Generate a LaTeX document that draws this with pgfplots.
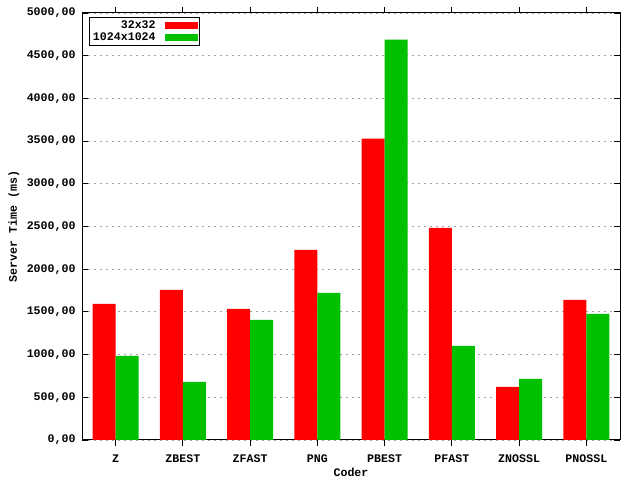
\documentclass[border=0pt]{standalone}
\usepackage{pgfplots}
\pgfplotsset{compat=1.18}
\usepackage{fontspec}
\setmainfont{Liberation Mono}
\definecolor{gred}{RGB}{255,0,0}
\definecolor{ggreen}{RGB}{0,192,0}
\definecolor{ggrid}{RGB}{160,160,160}
\newcommand{\gfont}{\fontsize{11.6bp}{12bp}\selectfont\bfseries}
\begin{document}
\begin{tikzpicture}
\useasboundingbox (0,0) rectangle (640bp,480bp);
\begin{axis}[
  at={(82bp,40bp)}, anchor=south west,
  scale only axis, width=538bp, height=427bp,
  xmin=-0.5, xmax=7.5, ymin=0, ymax=5000,
  xtick={0,...,7},
  xticklabels={Z,ZBEST,ZFAST,PNG,PBEST,PFAST,ZNOSSL,PNOSSL},
  ytick={0,500,...,5000},
  yticklabels={{0,00},{500,00},{1000,00},{1500,00},{2000,00},{2500,00},{3000,00},{3500,00},{4000,00},{4500,00},{5000,00}},
  ymajorgrids,
  major grid style={ggrid, line width=0.8bp, dash pattern=on 2bp off 4bp},
  tick align=inside,
  major tick length=6bp,
  tick style={black, line width=0.8bp},
  axis line style={black, line width=1bp},
  tick label style={font=\gfont, text=black},
  yticklabel style={xshift=-3bp},
  xticklabel style={yshift=-5bp},
  label style={font=\gfont},
  xlabel={Coder},
  ylabel={Server Time (ms)},
  xlabel style={at={(axis description cs:0.5,-0.0749)}, anchor=center},
  ylabel style={at={(axis description cs:-0.1264,0.5)}, anchor=center},
  ybar, bar width=23bp,
  legend style={at={(rel axis cs:0,1)}, anchor=north west, xshift=7bp, yshift=-4bp,
    draw=black, line width=1bp, font=\gfont, row sep=-1.5bp, inner sep=1.5bp,
    /tikz/column sep=7bp},
  legend cell align=right,
  legend plot pos=right,
  legend image code/.code={\fill[#1] (0bp,-3.5bp) rectangle (33bp,3.5bp);},
]
\addplot[fill=gred, draw=none, bar shift=-11.5bp] coordinates {
  (0,1594) (1,1758) (2,1535) (3,2227) (4,3528) (5,2485) (6,621) (7,1641)};
\addplot[fill=ggreen, draw=none, bar shift=11.5bp] coordinates {
  (0,984) (1,680) (2,1406) (3,1723) (4,4688) (5,1102) (6,715) (7,1477)};
\legend{32x32,1024x1024}
\end{axis}
\end{tikzpicture}
\end{document}
